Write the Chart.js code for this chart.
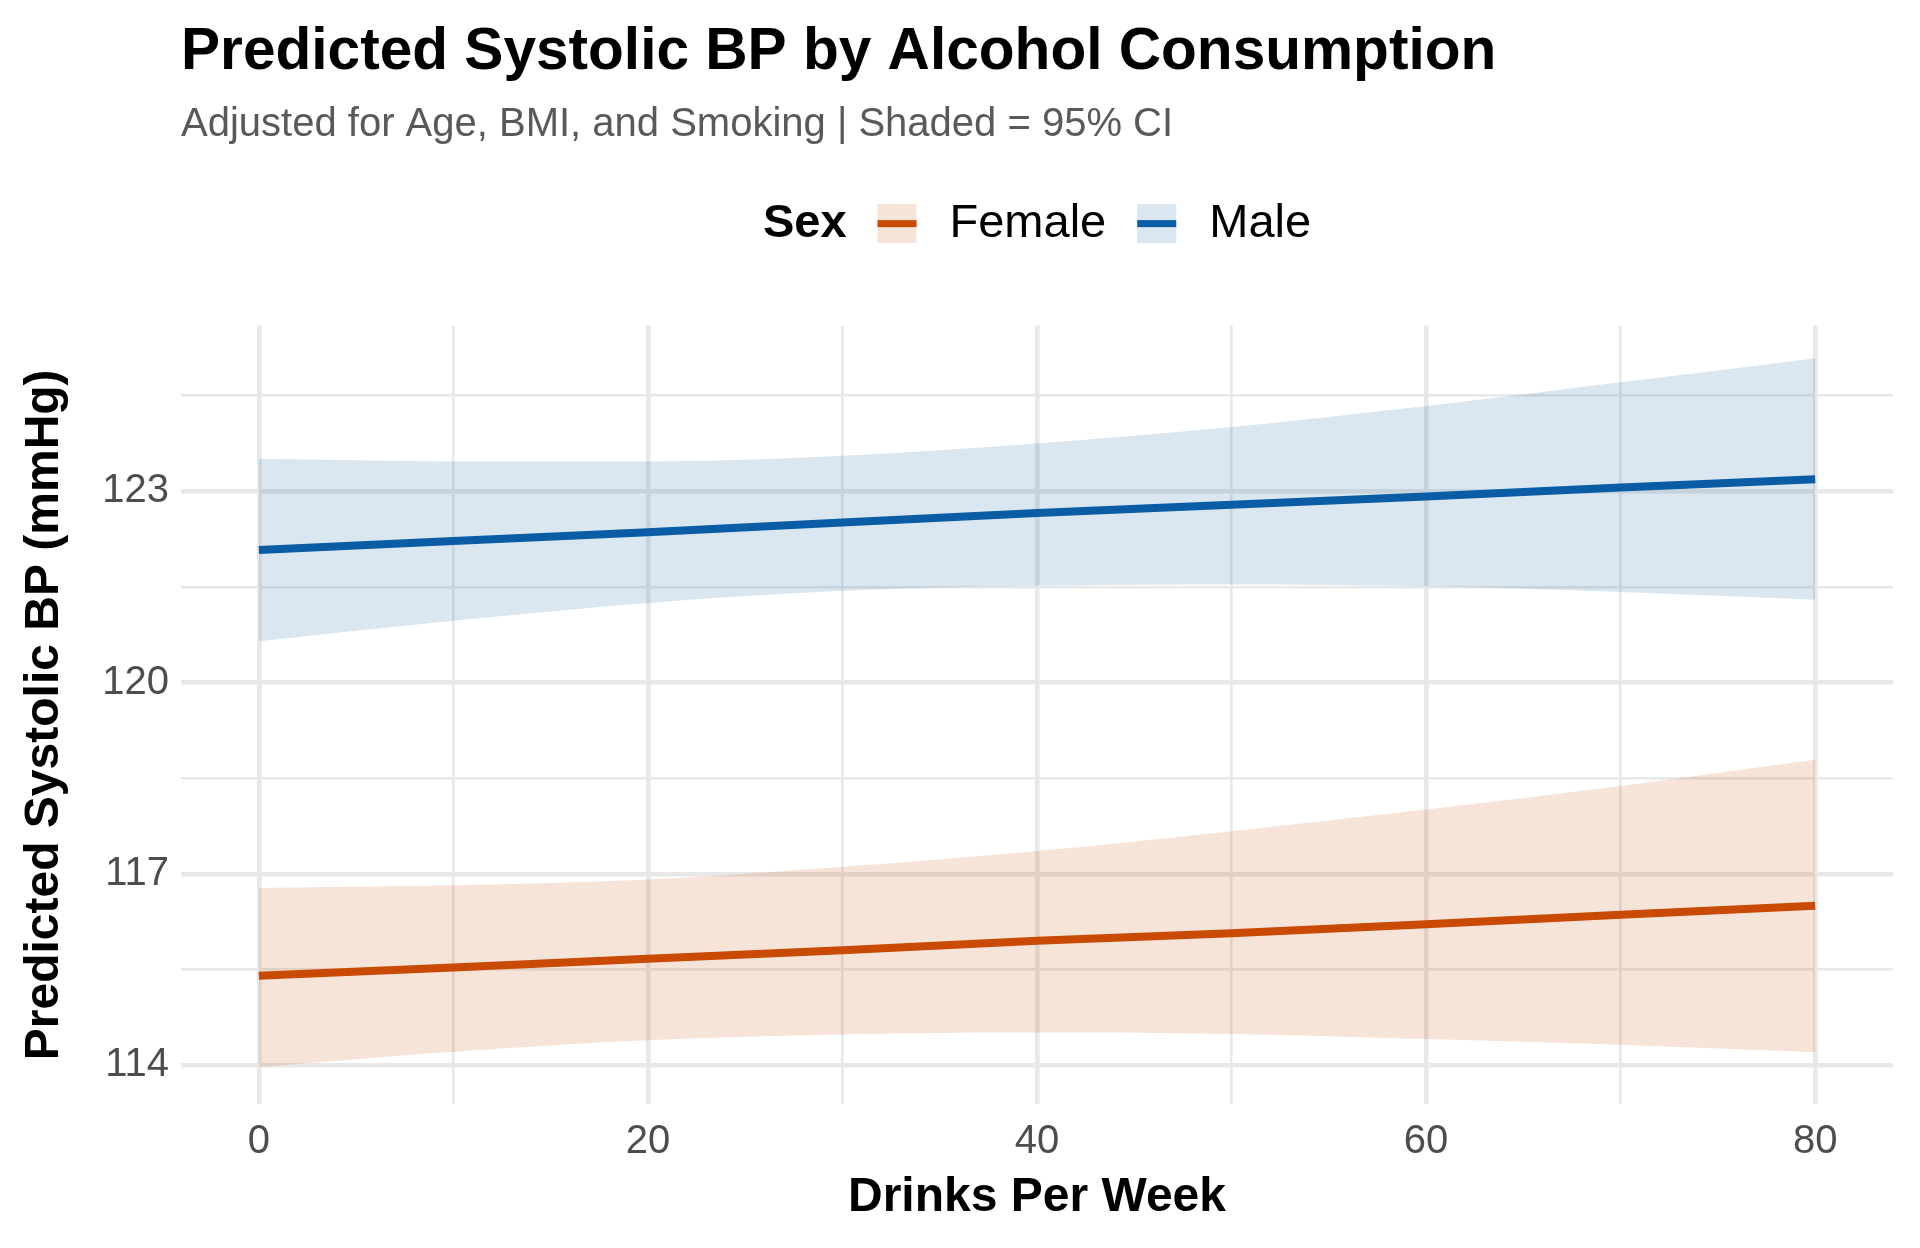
<!DOCTYPE html>
<html>
<head>
<meta charset="utf-8">
<script src="https://cdn.jsdelivr.net/npm/chart.js@4.4.1/dist/chart.umd.min.js"></script>
<style>
  html, body { margin: 0; padding: 0; background: #fff; }
  #wrap { width: 1920px; height: 1248px; }
</style>
</head>
<body>
<div id="wrap"><canvas id="bpChart" width="1920" height="1248"></canvas></div>
<script>
// values, every 10 drinks
const drinks = [0, 10, 20, 30, 40, 50, 60, 70, 80];

const femaleFit   = [115.40, 115.53, 115.67, 115.80, 115.95, 116.07, 116.21, 116.36, 116.50];
const femaleUpper = [116.78, 116.82, 116.91, 117.11, 117.36, 117.67, 118.01, 118.38, 118.79];
const femaleLower = [113.97, 114.21, 114.39, 114.48, 114.51, 114.49, 114.41, 114.32, 114.20];

const maleFit   = [122.08, 122.22, 122.36, 122.51, 122.66, 122.79, 122.92, 123.06, 123.19];
const maleUpper = [123.51, 123.47, 123.47, 123.56, 123.75, 124.01, 124.34, 124.71, 125.09];
const maleLower = [120.65, 120.97, 121.25, 121.44, 121.52, 121.54, 121.51, 121.42, 121.30];

const xMajorTicks = [0, 20, 40, 60, 80];
const xMinorTicks = [10, 30, 50, 70];
const yMajorTicks = [114, 117, 120, 123];
const yMinorTicks = [115.5, 118.5, 121.5, 124.5];

const seriesNames = ["Female", "Male"];
const lineColors = ["#C94A03", "#0A5CA4"];
const bandColors = ["rgba(201,74,3,0.15)", "rgba(10,92,164,0.15)"];

const FONT = "'Liberation Sans', Arial, Helvetica, sans-serif";
const GRID = "#E8E8E8";

function toPoints(values) {
  return drinks.map((d, i) => ({ x: d, y: values[i] }));
}

function setTicks(list) {
  return function (scale) {
    scale.ticks = list.slice().sort((a, b) => a - b).map((v) => ({ value: v }));
  };
}

// ggplot style legend: "Sex" + key boxes with line through
const sexLegend = {
  id: "sexLegend",
  afterDraw(chart) {
    const ctx = chart.ctx;
    const area = chart.chartArea;
    const cy = area.top - 102;
    const keySize = 39;

    ctx.save();
    ctx.textBaseline = "middle";
    ctx.font = "bold 47px " + FONT;
    const headW = ctx.measureText("Sex").width;
    ctx.font = "47px " + FONT;
    const labelW = seriesNames.map((n) => ctx.measureText(n).width);

    let total = headW;
    labelW.forEach((w) => { total += 31 + keySize + 33 + w; });

    let x = (area.left + area.right) / 2 - total / 2;
    ctx.fillStyle = "#000";
    ctx.font = "bold 47px " + FONT;
    ctx.fillText("Sex", x, cy);
    x += headW;

    ctx.font = "47px " + FONT;
    seriesNames.forEach((name, i) => {
      x += 31;
      ctx.fillStyle = "#fff";
      ctx.fillRect(x, cy - keySize / 2, keySize, keySize);
      ctx.fillStyle = bandColors[i];
      ctx.fillRect(x, cy - keySize / 2, keySize, keySize);
      ctx.fillStyle = lineColors[i];
      ctx.fillRect(x, cy - 3.5, keySize, 7);
      x += keySize + 33;
      ctx.fillStyle = "#000";
      ctx.fillText(name, x, cy);
      x += labelW[i];
    });
    ctx.restore();
  }
};

Chart.defaults.font.family = FONT;

const ctx = document.getElementById("bpChart").getContext("2d");
const chart = new Chart(ctx, {
  type: "line",
  data: {
    datasets: [
      {
        label: "Male",
        data: toPoints(maleFit),
        borderColor: lineColors[1],
        borderWidth: 8,
        pointRadius: 0,
        tension: 0,
        fill: false,
      },
      {
        label: "Female",
        data: toPoints(femaleFit),
        borderColor: lineColors[0],
        borderWidth: 8,
        pointRadius: 0,
        tension: 0,
        fill: false,
      },
      {
        label: "Male upper",
        data: toPoints(maleUpper),
        borderWidth: 0,
        borderColor: "rgba(0,0,0,0)",
        backgroundColor: bandColors[1],
        pointRadius: 0,
        cubicInterpolationMode: "monotone",
        fill: "+1",
      },
      {
        label: "Male lower",
        data: toPoints(maleLower),
        borderWidth: 0,
        borderColor: "rgba(0,0,0,0)",
        pointRadius: 0,
        cubicInterpolationMode: "monotone",
        fill: false,
      },
      {
        label: "Female upper",
        data: toPoints(femaleUpper),
        borderWidth: 0,
        borderColor: "rgba(0,0,0,0)",
        backgroundColor: bandColors[0],
        pointRadius: 0,
        cubicInterpolationMode: "monotone",
        fill: "+1",
      },
      {
        label: "Female lower",
        data: toPoints(femaleLower),
        borderWidth: 0,
        borderColor: "rgba(0,0,0,0)",
        pointRadius: 0,
        cubicInterpolationMode: "monotone",
        fill: false,
      },
    ],
  },
  options: {
    responsive: false,
    animation: false,
    devicePixelRatio: 1,
    layout: { padding: { left: 0, right: 27, top: 0, bottom: 0 } },
    plugins: {
      legend: { display: false },
      tooltip: { enabled: false },
      title: {
        display: true,
        text: "Predicted Systolic BP by Alcohol Consumption",
        align: "start",
        fullSize: false,
        color: "#000",
        font: { size: 58.6, weight: "bold" },
        padding: { top: 18, bottom: 0 },
      },
      subtitle: {
        display: true,
        text: "Adjusted for Age, BMI, and Smoking | Shaded = 95% CI",
        align: "start",
        fullSize: false,
        color: "#595959",
        font: { size: 40 },
        padding: { top: 13, bottom: 176.3 },
      },
    },
    scales: {
      x: {
        type: "linear",
        min: -4,
        max: 84,
        afterBuildTicks: setTicks(xMajorTicks.concat(xMinorTicks)),
        afterFit(scale) { scale.height = 144; },
        border: { display: false },
        grid: {
          color: GRID,
          drawTicks: false,
          lineWidth: (c) => (c.tick && xMajorTicks.includes(c.tick.value) ? 4.6 : 2.6),
        },
        ticks: {
          autoSkip: false,
          maxRotation: 0,
          padding: 14,
          color: "#4D4D4D",
          font: { size: 40 },
          callback: (v) => (xMajorTicks.includes(v) ? String(v) : ""),
        },
        title: {
          display: true,
          text: "Drinks Per Week",
          color: "#000",
          font: { size: 48, weight: "bold" },
          padding: { top: 0, bottom: 21 },
        },
      },
      y: {
        type: "linear",
        min: 113.39,
        max: 125.6,
        afterBuildTicks: setTicks(yMajorTicks.concat(yMinorTicks)),
        afterFit(scale) { scale.width = 181; },
        border: { display: false },
        grid: {
          color: GRID,
          drawTicks: false,
          lineWidth: (c) => (c.tick && yMajorTicks.includes(c.tick.value) ? 4.6 : 2.6),
        },
        ticks: {
          autoSkip: false,
          padding: 12,
          color: "#4D4D4D",
          font: { size: 40 },
          callback: (v) => (yMajorTicks.includes(v) ? String(v) : ""),
        },
        title: {
          display: true,
          text: "Predicted Systolic BP (mmHg)",
          color: "#000",
          font: { size: 48, weight: "bold" },
          padding: { top: 16, bottom: 0 },
        },
      },
    },
  },
  plugins: [sexLegend],
});
</script>
</body>
</html>
